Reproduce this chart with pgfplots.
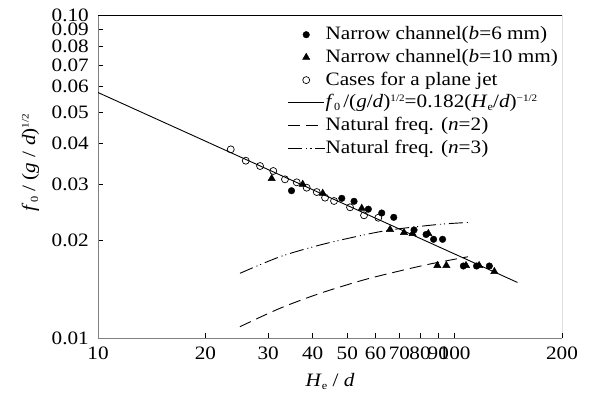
\documentclass[border=0pt]{standalone}
\usepackage{fontspec}
\setmainfont{Liberation Serif}[FakeStretch=1.12]
\usepackage{pgfplots}
\pgfplotsset{compat=1.18}
\newcommand\sups[1]{\raisebox{0.75ex}{\fontsize{10}{10}\selectfont #1}}
\newcommand\subs[1]{\raisebox{-0.35ex}{\fontsize{11}{11}\selectfont #1}}
\begin{document}
\begin{tikzpicture}
\path[use as bounding box] (0,0) rectangle (596bp,401bp);
\begin{axis}[
  at={(98bp,63bp)}, anchor=south west,
  width=464bp, height=323bp, scale only axis,
  xmode=log, ymode=log,
  xmin=10, xmax=200, ymin=0.01, ymax=0.1,
  axis x line*=bottom, axis y line*=left,
  axis line style={gray, line width=1bp},
  every tick/.style={black, line width=0.6bp},
  major tick length=5bp,
  minor tick num=0,
  xtick={10,20,30,40,50,60,70,80,90,100,200},
  xticklabels={10,20,30,40,50,60,70,80,90,100,200},
  ytick={0.01,0.02,0.03,0.04,0.05,0.06,0.07,0.08,0.09,0.1},
  yticklabels={0.01,0.02,0.03,0.04,0.05,0.06,0.07,0.08,0.09,0.10},
  /pgf/number format/assume math mode=true,
  tick label style={font=\fontsize{19}{19}\selectfont},
  xticklabel style={inner sep=1bp, yshift=-8bp},
  yticklabel style={inner sep=1bp, xshift=-8bp},
  xlabel={\textit{H}\subs{e} / \textit{d}},
  ylabel={\textit{f}\subs{0} / (\textit{g} / \textit{d})\sups{1/2}},
  label style={font=\fontsize{19}{19}\selectfont},
  xlabel style={yshift=-9bp},
  ylabel style={yshift=8bp, xshift=14bp},
  legend style={draw=none, fill=none, at={(rel axis cs:1,1)}, anchor=north east,
    xshift=-2bp, yshift=-8bp,
    font=\fontsize{19}{22}\selectfont, row sep=1.7bp, inner sep=1bp,
    nodes={inner xsep=1bp, inner ysep=1.5bp, text height=14bp, text depth=4bp}},
  legend cell align=left,
  legend image code/.code={\draw[mark repeat=2,mark phase=2,#1] plot coordinates {(0bp,0bp)(18bp,0bp)(36bp,0bp)};},
]
% filled circles: b = 6 mm
\addplot[only marks, mark=*, mark size=3.3bp, black] coordinates {
(34.88,0.02858) (48.25,0.02707) (52.23,0.0265) (57.28,0.02505) (62.45,0.02438)
(67.49,0.02364) (76.94,0.0216) (83.16,0.02092) (87.28,0.02021) (92.49,0.02021)
(105.8,0.01671) (115.2,0.01671) (125.1,0.01671)
};
\addlegendentry{Narrow channel(\textit{b}=6 mm)}
% triangles: b = 10 mm
\addplot[only marks, mark=triangle*, mark size=4.2bp, black] coordinates {
(30.69,0.03117) (37.50,0.02991) (42.67,0.02805) (54.89,0.02521) (65.9,0.02168)
(72.1,0.02121) (76.2,0.02106) (84.38,0.02106) (89.44,0.01677) (94.78,0.01677)
(107.6,0.01677) (117.1,0.01677) (129.2,0.01606)
};
\addlegendentry{Narrow channel(\textit{b}=10 mm)}
% open circles: plane jet
\addplot[only marks, mark=o, mark size=3.5bp, line width=0.7bp, black] coordinates {
(23.56,0.03838) (25.96,0.03539) (28.47,0.03408) (31.01,0.03289) (33.44,0.03099)
(36.07,0.03034) (38.47,0.0292) (41.05,0.02831) (43.31,0.02719) (45.90,0.02656)
(50.89,0.02539) (55.71,0.02398) (61.09,0.02357)
};
\addlegendentry{Cases for a plane jet}
% fit line
\addplot[black, line width=0.9bp] coordinates {(10,0.05755) (150,0.01486)};
\addlegendentry{\textit{f}\subs{0}\,/(\textit{g}/\textit{d})\sups{1/2}=0.182(\textit{H}\subs{e}/\textit{d})\sups{−1/2}}
% natural freq n=2
\addplot[black, line width=0.9bp, dash pattern=on 12bp off 6bp, smooth] coordinates {
(25.0,0.01084) (32.38,0.01236) (41.93,0.01375) (55.46,0.01512) (68.8,0.01605) (85.31,0.01695) (109,0.01785)
};
\addlegendentry{Natural freq. (\textit{n}=2)}
% natural freq n=3
\addplot[black, line width=0.9bp, dash pattern=on 14bp off 4bp on 1bp off 3bp on 1bp off 4bp, smooth] coordinates {
(25.0,0.01586) (32.38,0.01785) (41.93,0.01941) (55.46,0.02084) (65.9,0.0216) (78.3,0.02211) (92.97,0.02254) (110.5,0.02281)
};
\addlegendentry{Natural freq. (\textit{n}=3)}
\draw[black, line width=0.8bp] (rel axis cs:0,1) -- (rel axis cs:1,1) -- (rel axis cs:1,0);
\end{axis}
\end{tikzpicture}
\end{document}
